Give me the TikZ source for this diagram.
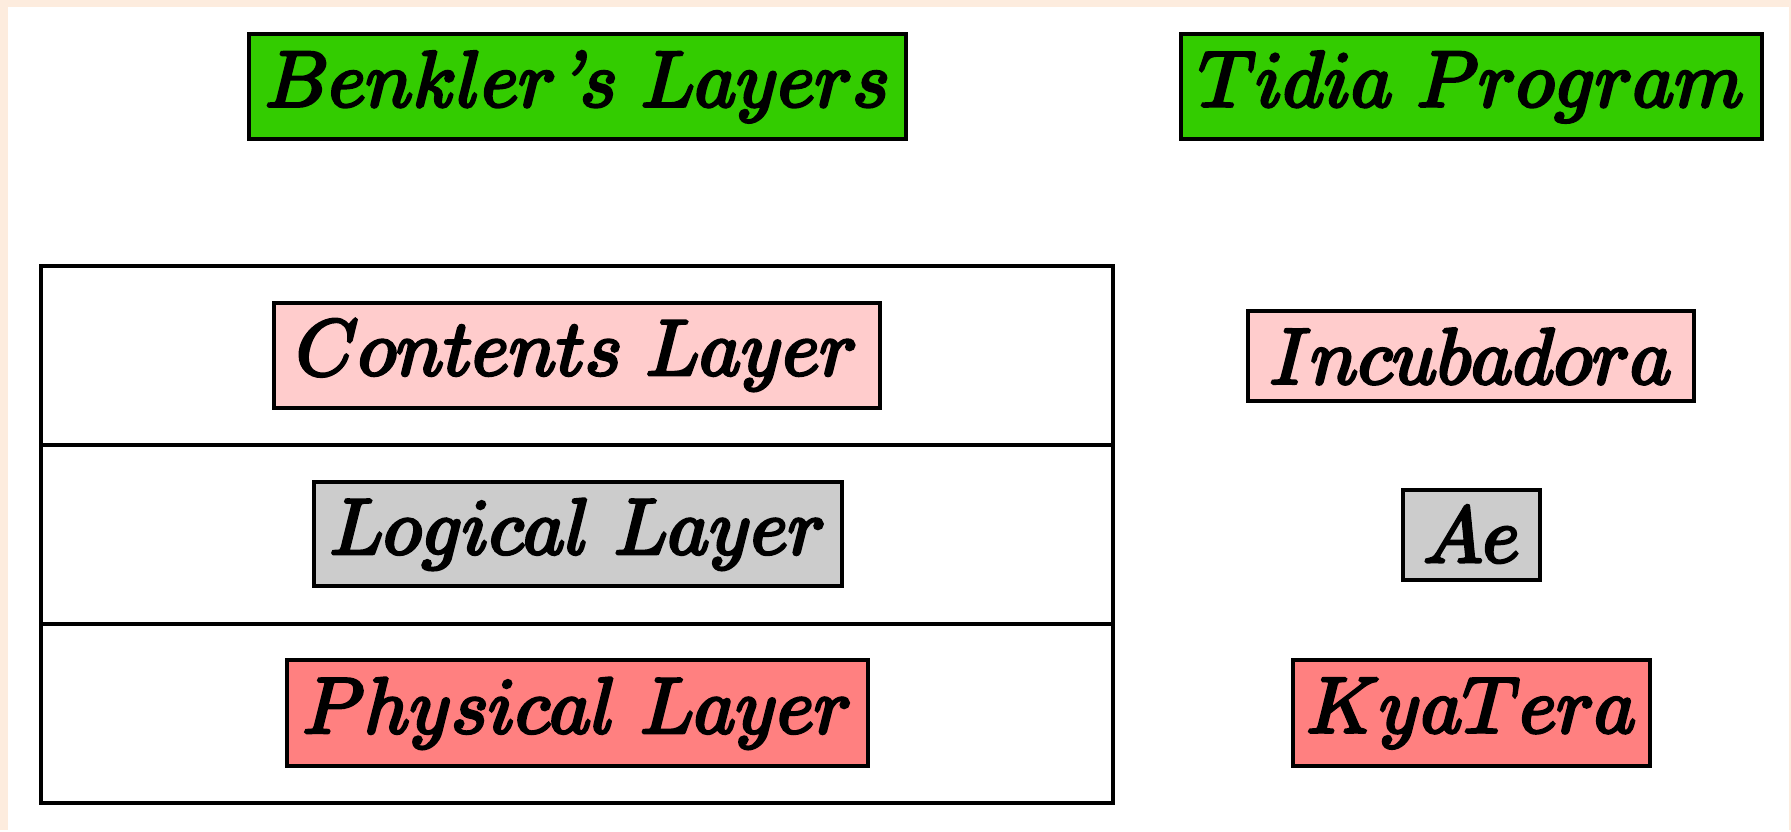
\documentclass[tikz,border=0pt]{standalone}
\usepackage{fontspec}
\DeclareFontShape{OML}{cmm}{m}{it}{<->cmmi10}{\skewchar\font'177}
\DeclareFontShape{OMS}{cmsy}{m}{n}{<->cmsy10}{\skewchar\font'60}
\DeclareFontShape{OT1}{cmr}{m}{n}{<->cmr10}{}
\DeclareMathSizes{79}{79}{55}{40}
\definecolor{peach}{RGB}{253,236,222}
\definecolor{hdrgreen}{RGB}{51,204,0}
\definecolor{lpink}{RGB}{255,204,204}
\definecolor{lgray}{RGB}{204,204,204}
\definecolor{salmon}{RGB}{255,128,128}
\newcommand{\apos}{\mbox{\itshape ’}}
\newcommand{\heavy}[1]{\special{pdf:literal direct 2 Tr 3.2 w}#1\special{pdf:literal direct 0 Tr}}
\tikzset{
  lbl/.style={draw=black, line width=3.4pt, inner sep=0pt, anchor=center,
    font=\fontsize{79}{82}\selectfont},
  frameline/.style={line width=3.4pt},
}
\begin{document}
\begin{tikzpicture}[x=1pt,y=-1pt]
\fill[peach] (0,0) rectangle (1791,830);
\fill[white] (8,7) rectangle (1789,831);
\useasboundingbox (0,0) rectangle (1791,830);
% headers
\node[lbl, fill=hdrgreen, minimum width=657pt, minimum height=105pt] (benk) at (577.5,86.5) {\heavy{$Benkler\apos s\ Layers$}};
\node[lbl, fill=hdrgreen, minimum width=581pt, minimum height=105pt] (tidia) at (1471.5,86.5) {\heavy{$Tidia\ Program$}};
% layer frame
\draw[frameline] (41,266) rectangle (1113,803);
\coordinate (d1l) at (41,445); \coordinate (d1r) at (1113,445);
\coordinate (d2l) at (41,624); \coordinate (d2r) at (1113,624);
\draw[frameline] (d1l) -- (d1r);
\draw[frameline] (d2l) -- (d2r);
% left boxes
\node[lbl, fill=lpink, minimum width=606pt, minimum height=105pt] (cont) at (577,355.5) {\heavy{$Contents\ Layer$}};
\node[lbl, fill=lgray, minimum width=528pt, minimum height=104pt] (logi) at (578,534) {\heavy{$Logical\ Layer$}};
\node[lbl, fill=salmon, minimum width=581pt, minimum height=106pt] (phys) at (577.5,713) {\heavy{$Physical\ Layer$}};
% right boxes
\node[lbl, fill=lpink, minimum width=446pt, minimum height=90pt] (incu) at (1471,356) {\heavy{$Incubadora$}};
\node[lbl, fill=lgray, minimum width=137pt, minimum height=90pt] (ae) at (1471.5,535) {\heavy{$Ae$}};
\node[lbl, fill=salmon, minimum width=357pt, minimum height=106pt] (kya) at (1471.5,713) {\heavy{$KyaTera$}};
\end{tikzpicture}
\end{document}
